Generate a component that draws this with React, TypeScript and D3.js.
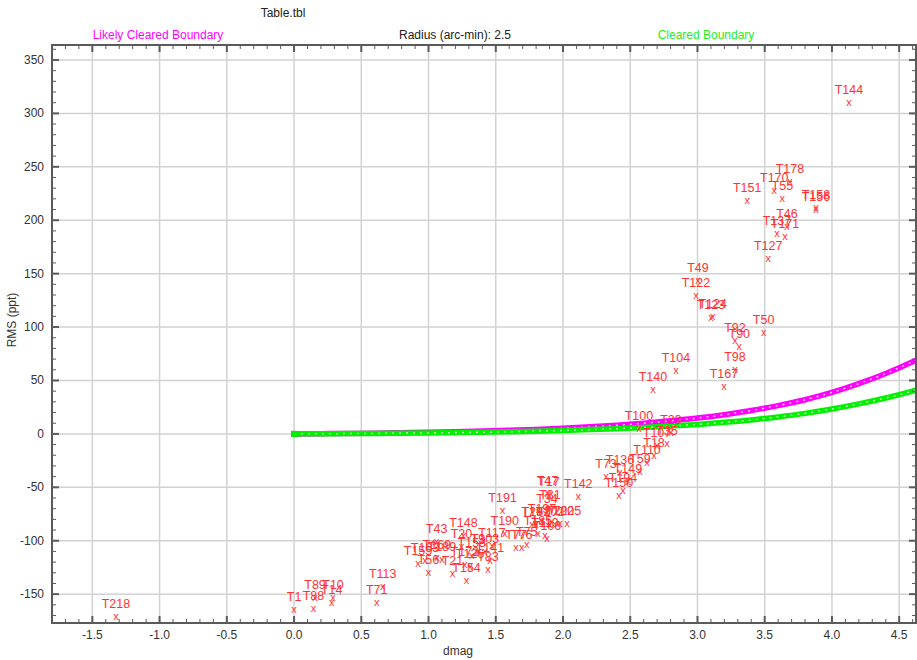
import { useEffect, useRef } from "react";
import * as d3 from "d3";

const width = 917;
const height = 660;

// target names with their dmag / RMS (ppt) values
const targets = [
  "T218", "T1", "T88", "T89", "T10", "T14", "T71", "T113", "T155", "T163",
  "T56", "T43", "T169", "T189", "T21", "T148", "T20", "T172", "T154", "T153",
  "T126", "T9", "T103", "T117", "T141", "T83", "T190", "T191", "T77", "T76",
  "T75", "T185", "T29", "T182", "T197", "T102", "T119", "T106", "T34", "T31",
  "T47", "T17", "T202", "T205", "T142", "T73", "T136", "T59", "T149", "T194",
  "T150", "T110", "T18", "T107", "T35", "T23", "T100", "T140", "T104", "T167",
  "T98", "T92", "T90", "T50", "T123", "T124", "T122", "T49", "T127", "T137",
  "T171", "T46", "T151", "T55", "T170", "T178", "T156", "T158", "T144",
];
const dmag = [
  -1.325, 0.0, 0.144, 0.156, 0.29, 0.28, 0.615, 0.659, 0.922, 0.974,
  0.999, 1.061, 1.063, 1.1, 1.178, 1.26, 1.245, 1.27, 1.283, 1.322,
  1.309, 1.368, 1.42, 1.472, 1.457, 1.442, 1.567, 1.551, 1.651, 1.693,
  1.73, 1.814, 1.77, 1.799, 1.844, 1.903, 1.866, 1.881, 1.881, 1.903,
  1.884, 1.895, 1.978, 2.03, 2.114, 2.32, 2.424, 2.572, 2.483, 2.446,
  2.416, 2.625, 2.677, 2.699, 2.773, 2.803, 2.565, 2.669, 2.84, 3.197,
  3.279, 3.279, 3.311, 3.492, 3.1, 3.113, 2.989, 3.004, 3.526, 3.591,
  3.651, 3.665, 3.37, 3.631, 3.571, 3.688, 3.881, 3.881, 4.126,
];
const rms = [
  -170, -163.8, -162.8, -152.3, -152.3, -157.6, -157.6, -142, -120.4, -117.6,
  -129.1, -100.1, -114.8, -116.7, -130, -95, -105, -121.7, -136.4, -113,
  -123.2, -110, -110, -104.3, -117.6, -126, -92.9, -71.5, -105.7, -105.7,
  -102.7, -92.4, -84.2, -84.5, -81.6, -84.5, -94.2, -97, -71.8, -68,
  -55.2, -56.5, -83.6, -83, -58.4, -39.6, -36, -35, -43.7, -52.1,
  -56.8, -26.5, -19.6, -10, -8.2, 2.2, 5.9, 42.4, 60.2, 44.4,
  60.8, 87.6, 82, 95.4, 109.8, 110.7, 129.7, 144.4, 164.7, 188.4,
  185.6, 195, 219.3, 220.8, 228, 236.4, 210.8, 212.7, 310.3,
];

// boundary curves
const boundaryDmag = [0, 0.2, 0.4, 0.6, 0.8, 1.0, 1.2, 1.4, 1.6, 1.8, 2.0, 2.2, 2.4, 2.6, 2.8, 3.0, 3.2, 3.4, 3.6, 3.8, 4.0, 4.2, 4.4, 4.6, 4.8];
const likelyCleared = [0, 0.2, 0.4, 0.7, 1.1, 1.5, 2.0, 2.6, 3.4, 4.2, 5.3, 6.6, 8.1, 10, 12.2, 14.8, 18, 21.9, 26.5, 32, 38.8, 47, 56.5, 67.5, 80];
const cleared = [0, 0.1, 0.3, 0.4, 0.7, 0.9, 1.2, 1.6, 2.0, 2.5, 3.2, 4.0, 4.9, 6.0, 7.3, 8.9, 10.8, 13.1, 15.9, 19.2, 23.3, 28.1, 33.6, 40, 47.5];

const xTicks = [-1.5, -1.0, -0.5, 0.0, 0.5, 1.0, 1.5, 2.0, 2.5, 3.0, 3.5, 4.0, 4.5];
const yTicks = [-150, -100, -50, 0, 50, 100, 150, 200, 250, 300, 350];

const App = () => {
  const ref = useRef<SVGSVGElement>(null);

  useEffect(() => {
    const svg = d3.select(ref.current);
    svg.selectAll("*").remove();

    const left = 52, right = 916, top = 45, bottom = 623;
    const font = "'Liberation Sans', Arial, sans-serif";

    const x = d3.scaleLinear().domain([-1.8, 4.625]).range([left, right]);
    const y = d3.scaleLinear().domain([-177, 364]).range([bottom, top]);

    svg.append("rect").attr("width", width).attr("height", height).attr("fill", "#fff");

    svg.append("defs").append("clipPath").attr("id", "plotclip")
      .append("rect").attr("x", left).attr("y", top)
      .attr("width", right - left).attr("height", bottom - top);

    // grid
    const grid = svg.append("g").attr("stroke", "#d2d2d2").attr("stroke-width", 1.5);
    grid.selectAll("line.v").data(xTicks).join("line")
      .attr("x1", d => x(d)).attr("x2", d => x(d))
      .attr("y1", top).attr("y2", bottom);
    grid.selectAll("line.h").data(yTicks).join("line")
      .attr("x1", left).attr("x2", right)
      .attr("y1", d => y(d)).attr("y2", d => y(d));

    // boundary curves
    const curves = svg.append("g").attr("clip-path", "url(#plotclip)");
    const drawBoundary = (vals: number[], color: string, light: string) => {
      const pts = boundaryDmag.map((d, i) => [d, vals[i]] as [number, number]);
      const line = d3.line<[number, number]>()
        .x(d => x(d[0])).y(d => y(d[1]))
        .curve(d3.curveMonotoneX);
      curves.append("path").attr("d", line(pts))
        .attr("fill", "none").attr("stroke", color).attr("stroke-width", 5.5);
      curves.append("path").attr("d", line(pts))
        .attr("fill", "none").attr("stroke", light).attr("stroke-width", 1.5)
        .attr("stroke-dasharray", "2,5");
      curves.append("rect")
        .attr("x", x(0) - 3).attr("y", y(vals[0]) - 3)
        .attr("width", 6).attr("height", 6).attr("fill", color);
    };
    drawBoundary(likelyCleared, "#ff00ff", "#f8c8f8");
    drawBoundary(cleared, "#00f000", "#c8f0c8");

    // points
    const pts = svg.append("g").attr("font-family", font).attr("fill", "#ff3333")
      .attr("text-anchor", "middle");
    const idx = d3.range(targets.length);
    pts.selectAll("text.mark").data(idx).join("text")
      .attr("x", i => x(dmag[i])).attr("y", i => y(rms[i]) + 4)
      .attr("font-size", 11)
      .text("x");
    pts.selectAll("text.lbl").data(idx).join("text")
      .attr("x", i => x(dmag[i])).attr("y", i => y(rms[i]) - 8)
      .attr("font-size", 12.5)
      .text(i => targets[i]);

    // frame + ticks
    const axisColor = "#5a5a5a";
    const frame = svg.append("g").attr("stroke", axisColor);
    frame.append("rect").attr("x", left).attr("y", top)
      .attr("width", right - left).attr("height", bottom - top)
      .attr("fill", "none").attr("stroke-width", 2);

    const xMinor = d3.range(-17, 47).map(v => v / 10);
    const yMinor = d3.range(-17, 37).map(v => v * 10);
    const isMajorX = (v: number) => Math.abs(v * 2 - Math.round(v * 2)) < 1e-6;
    const isMajorY = (v: number) => v % 50 === 0;

    frame.selectAll("line.xb").data(xMinor).join("line")
      .attr("x1", d => x(d)).attr("x2", d => x(d))
      .attr("y1", bottom).attr("y2", d => bottom - (isMajorX(d) ? 7 : 4))
      .attr("stroke-width", d => isMajorX(d) ? 2 : 1);
    frame.selectAll("line.xt").data(xMinor).join("line")
      .attr("x1", d => x(d)).attr("x2", d => x(d))
      .attr("y1", top).attr("y2", d => top + (isMajorX(d) ? 7 : 4))
      .attr("stroke-width", d => isMajorX(d) ? 2 : 1);
    frame.selectAll("line.yl").data(yMinor).join("line")
      .attr("y1", d => y(d)).attr("y2", d => y(d))
      .attr("x1", left).attr("x2", d => left + (isMajorY(d) ? 7 : 4))
      .attr("stroke-width", d => isMajorY(d) ? 2 : 1);
    frame.selectAll("line.yr").data(yMinor).join("line")
      .attr("y1", d => y(d)).attr("y2", d => y(d))
      .attr("x1", right).attr("x2", d => right - (isMajorY(d) ? 7 : 4))
      .attr("stroke-width", d => isMajorY(d) ? 2 : 1);

    // tick labels
    const labels = svg.append("g").attr("font-family", font).attr("font-size", 12).attr("fill", "#333");
    labels.selectAll("text.xl").data(xTicks).join("text")
      .attr("x", d => x(d)).attr("y", bottom + 16)
      .attr("text-anchor", "middle")
      .text(d => d.toFixed(1));
    labels.selectAll("text.yl").data(yTicks).join("text")
      .attr("x", left - 8).attr("y", d => y(d) + 4)
      .attr("text-anchor", "end")
      .text(d => String(d));

    labels.append("text").attr("x", 458).attr("y", 655).attr("text-anchor", "middle").text("dmag");
    labels.append("text").attr("transform", "translate(16,320) rotate(-90)")
      .attr("text-anchor", "middle").text("RMS (ppt)");

    // header
    const head = svg.append("g").attr("font-family", font).attr("font-size", 12).attr("text-anchor", "middle");
    head.append("text").attr("x", 283).attr("y", 17).attr("fill", "#222").text("Table.tbl");
    head.append("text").attr("x", 158).attr("y", 39).attr("fill", "#ff00ff").text("Likely Cleared Boundary");
    head.append("text").attr("x", 455).attr("y", 39).attr("fill", "#222").text("Radius (arc-min): 2.5");
    head.append("text").attr("x", 706).attr("y", 39).attr("fill", "#22ee22").text("Cleared Boundary");
  }, []);

  return (
    <svg
      ref={ref}
      width={width}
      height={height}
      style={{ position: "absolute", left: 0, top: 0 }}
    />
  );
};

export default App;
